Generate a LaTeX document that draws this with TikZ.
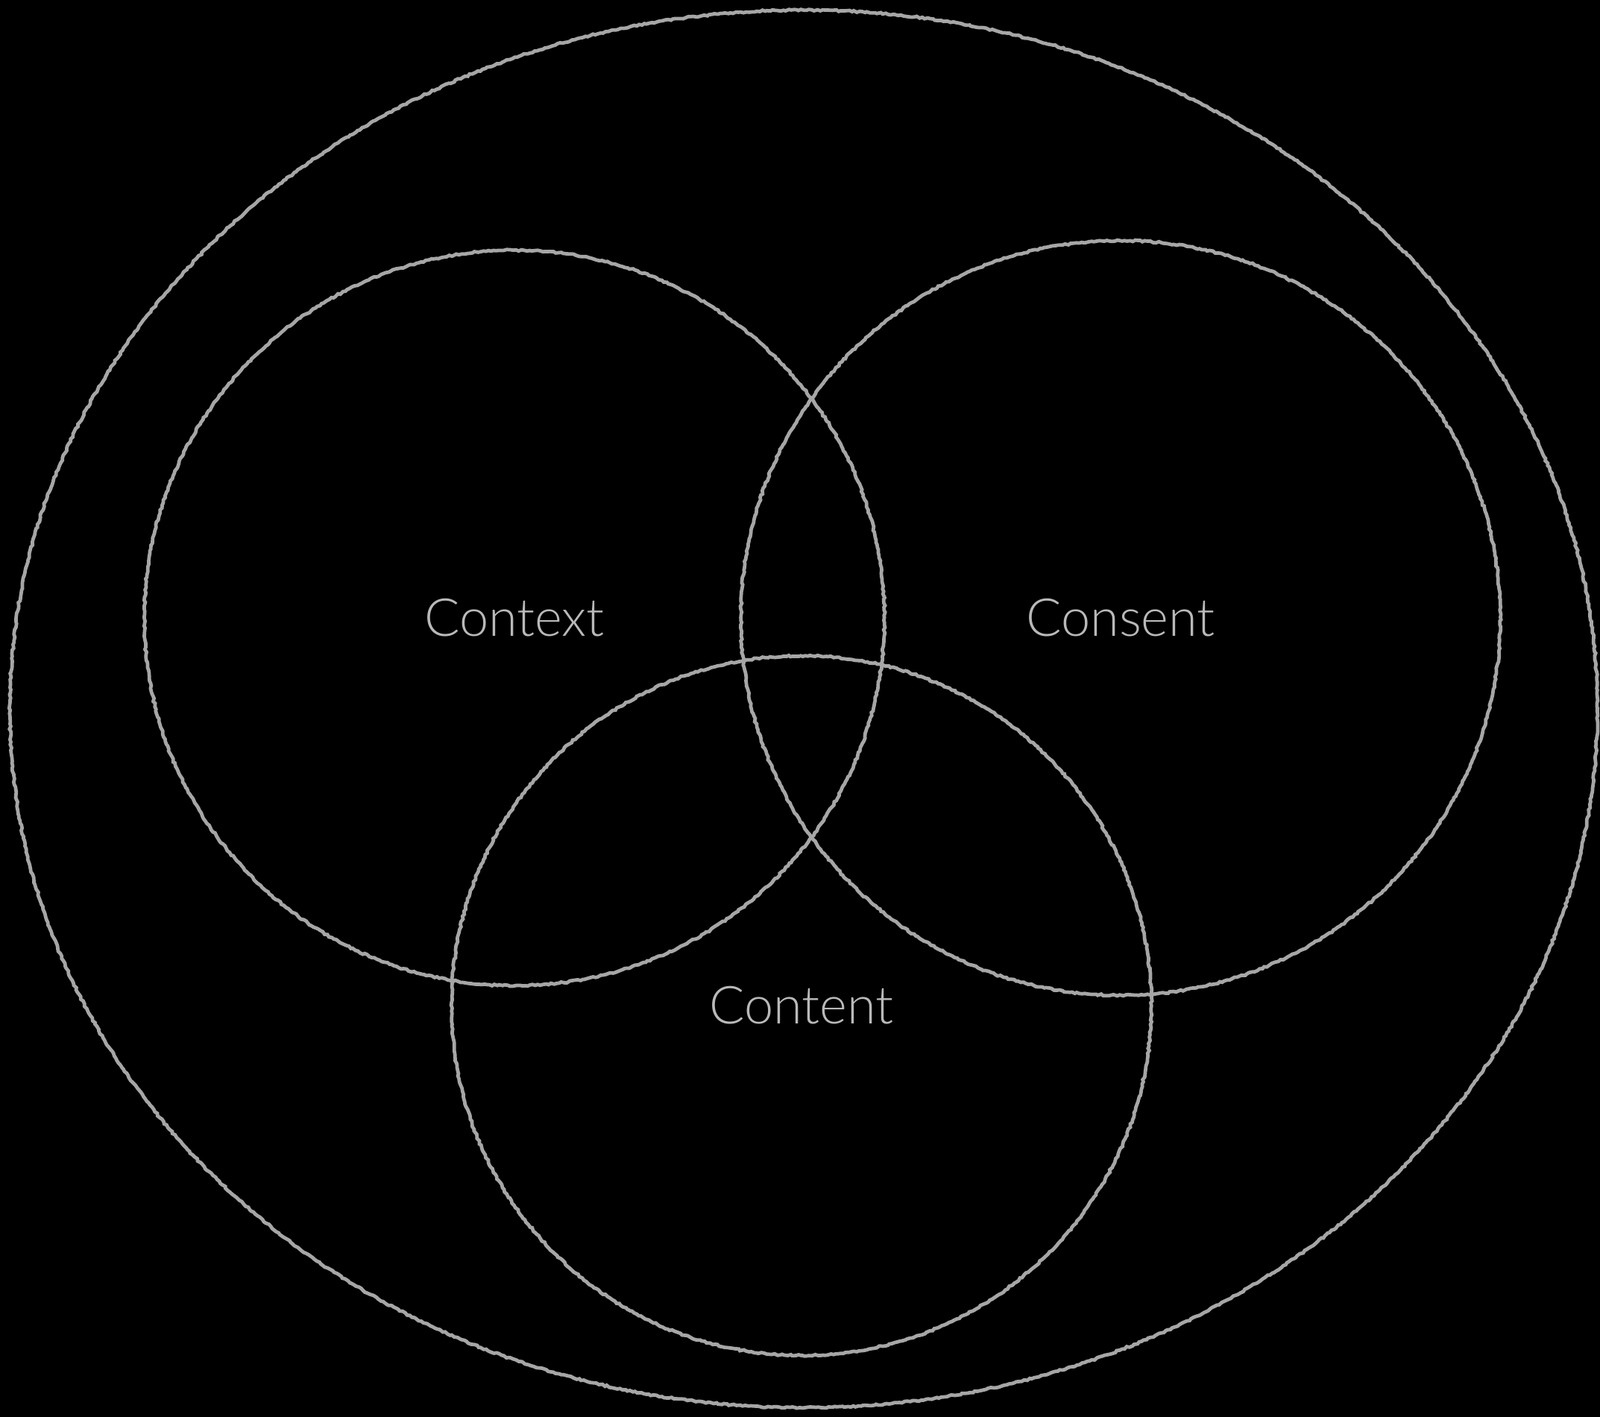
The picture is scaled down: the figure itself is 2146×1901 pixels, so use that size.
\documentclass[tikz,border=0pt]{standalone}
\usepackage{fontspec}
\setmainfont{Lato}[UprightFont={* Light}]
\usetikzlibrary{shapes.geometric, decorations.pathmorphing, positioning}

\begin{document}
\begin{tikzpicture}[
  x=0.01cm, y=-0.01cm,
  chalk/.style={draw=gray!70!white, line width=1.35pt,
    decorate, decoration={random steps, segment length=1pt, amplitude=0.3pt}},
  setring/.style={ellipse, chalk, inner sep=0pt},
  lbl/.style={font=\fontsize{20}{24}\selectfont, text=gray!55!white}
]
  %--- background ---
  \fill[black] (0,0) rectangle (2146,1901);
  \useasboundingbox (0,0) rectangle (2146,1901);

  %--- outer set ---
  \node[setring, minimum width=21.28cm, minimum height=18.74cm]
    (world) at (1078,951) {};

  %--- the three sets ---
  \node[setring, minimum width=9.92cm, minimum height=9.86cm]
    (context) at (690,829) {};
  \node[setring, minimum width=10.18cm, minimum height=10.12cm]
    (consent) at (1503,829) {};
  \node[setring, minimum width=9.38cm, minimum height=9.38cm]
    (content) at (1075,1349) {};

  %--- labels ---
  \node[lbl] (contextlbl) at (context.center) {Context};
  \node[lbl] (consentlbl) at (consent.center) {Consent};
  \node[lbl] (contentlbl) at (content.center) {Content};
\end{tikzpicture}
\end{document}
